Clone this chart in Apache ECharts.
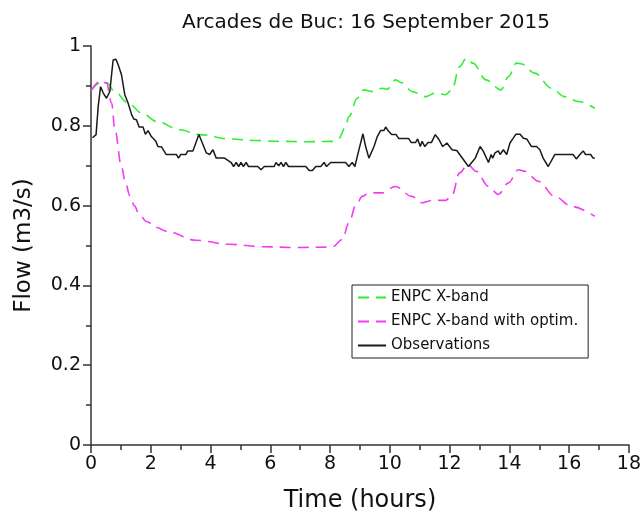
<!DOCTYPE html>
<html>
<head>
<meta charset="utf-8">
<script src="https://cdn.jsdelivr.net/npm/echarts@6/dist/echarts.min.js"></script>
<style>
  html, body { margin: 0; padding: 0; background: #fff; }
  #chart { width: 644px; height: 518px; }
</style>
</head>
<body>
<div id="chart"></div>
<script>
// Hourly flow at Arcades de Buc, 16 September 2015
const titleText = 'Arcades de Buc: 16 September 2015';
const xTicks = [0, 2, 4, 6, 8, 10, 12, 14, 16, 18];
const yTicks = [0, 0.2, 0.4, 0.6, 0.8, 1];

// ENPC X-band simulation
const xbandHours = [0, 0.3, 0.53, 0.8, 1.24, 1.7, 2.19, 2.97, 3.63, 4.63, 5.5, 6.3, 7.2, 8.08,
  8.3, 8.5, 8.63, 8.91, 9.13, 9.41, 9.74, 9.91, 10.19, 10.41, 10.74, 11.19, 11.52, 11.86,
  12.08, 12.33, 12.56, 12.78, 13.22, 13.72, 13.97, 14.24, 14.41, 14.85, 15.41, 15.85, 16.3, 16.86];
const xbandFlow = [0.888, 0.908, 0.908, 0.885, 0.857, 0.832, 0.811, 0.790, 0.778, 0.767, 0.763, 0.761, 0.760, 0.761,
  0.769, 0.795, 0.823, 0.869, 0.890, 0.886, 0.894, 0.892, 0.915, 0.908, 0.886, 0.873, 0.882, 0.878,
  0.890, 0.948, 0.969, 0.957, 0.915, 0.890, 0.923, 0.957, 0.955, 0.932, 0.894, 0.873, 0.861, 0.844];

// ENPC X-band simulation with optimised parameters
const optimHours = [0, 0.32, 0.52, 0.69, 0.8, 1.02, 1.15, 1.3, 1.45, 1.6, 1.86, 2.2, 2.52, 3.52, 4.63, 5.74,
  6.86, 8.08, 8.41, 8.63, 8.86, 9.08, 9.3, 9.74, 10.19, 10.74, 11.08, 11.41, 11.86, 12.08, 12.33,
  12.61, 12.89, 13.3, 13.63, 13.97, 14.3, 14.52, 14.97, 15.52, 16.08, 16.86];
const optimFlow = [0.888, 0.913, 0.907, 0.857, 0.790, 0.698, 0.658, 0.625, 0.600, 0.580, 0.560, 0.545, 0.536, 0.513, 0.503, 0.497,
  0.495, 0.496, 0.515, 0.557, 0.600, 0.623, 0.632, 0.632, 0.648, 0.623, 0.607, 0.613, 0.613, 0.625, 0.682,
  0.703, 0.686, 0.648, 0.628, 0.657, 0.690, 0.686, 0.661, 0.623, 0.598, 0.573];

// Gauged observations
const obsHours = [0.05, 0.17, 0.24, 0.32, 0.41, 0.52, 0.63, 0.74, 0.83, 0.91, 1.02, 1.13, 1.24, 1.30, 1.36,
  1.43, 1.52, 1.61, 1.74, 1.82, 1.91, 2.02, 2.17, 2.24, 2.36, 2.52, 2.86, 2.93, 3.00, 3.17, 3.24,
  3.41, 3.61, 3.67, 3.86, 3.97, 4.08, 4.19, 4.47, 4.69, 4.77, 4.86, 4.94, 5.02, 5.10, 5.19, 5.27,
  5.58, 5.69, 5.80, 6.13, 6.19, 6.28, 6.36, 6.44, 6.52, 6.61, 7.19, 7.30, 7.41, 7.52, 7.69, 7.80,
  7.88, 8.02, 8.52, 8.63, 8.74, 8.83, 8.94, 9.10, 9.19, 9.30, 9.36, 9.47, 9.58, 9.69, 9.80, 9.86,
  9.94, 10.06, 10.21, 10.30, 10.63, 10.72, 10.86, 10.93, 11.02, 11.08, 11.17, 11.28, 11.39, 11.52,
  11.63, 11.77, 11.91, 12.08, 12.24, 12.63, 12.74, 12.86, 13.02, 13.13, 13.30, 13.39, 13.44, 13.52,
  13.63, 13.69, 13.80, 13.91, 14.02, 14.13, 14.22, 14.36, 14.47, 14.58, 14.74, 14.91, 15.02, 15.13,
  15.30, 15.52, 16.13, 16.24, 16.36, 16.47, 16.55, 16.72, 16.80, 16.86];
const obsFlow = [0.770, 0.778, 0.848, 0.898, 0.882, 0.869, 0.886, 0.965, 0.967, 0.953, 0.928, 0.878, 0.857, 0.853, 0.828,
  0.817, 0.815, 0.797, 0.797, 0.779, 0.788, 0.773, 0.761, 0.748, 0.747, 0.728, 0.728, 0.719, 0.728, 0.728, 0.737,
  0.737, 0.778, 0.778, 0.732, 0.728, 0.740, 0.719, 0.719, 0.708, 0.698, 0.708, 0.698, 0.708, 0.698, 0.708, 0.698,
  0.698, 0.690, 0.698, 0.698, 0.708, 0.700, 0.708, 0.698, 0.708, 0.698, 0.698, 0.688, 0.688, 0.698, 0.698, 0.708,
  0.698, 0.708, 0.708, 0.698, 0.708, 0.698, 0.732, 0.780, 0.748, 0.719, 0.719, 0.748, 0.773, 0.788, 0.788, 0.797,
  0.788, 0.778, 0.778, 0.768, 0.768, 0.758, 0.758, 0.767, 0.748, 0.761, 0.748, 0.758, 0.758, 0.778,
  0.767, 0.748, 0.757, 0.740, 0.738, 0.698, 0.708, 0.719, 0.748, 0.736, 0.708, 0.728, 0.719, 0.732,
  0.737, 0.728, 0.740, 0.728, 0.757, 0.769, 0.779, 0.779, 0.769, 0.767, 0.748, 0.748, 0.740, 0.719,
  0.698, 0.728, 0.728, 0.717, 0.728, 0.737, 0.728, 0.728, 0.719, 0.719];

const seriesNames = ['ENPC X-band', 'ENPC X-band with optim.', 'Observations'];

const pairs = (xs, ys) => xs.map((x, i) => [x, ys[i]]);
const FONT = 'DejaVu Sans';
const DASH = [11, 7];

const chart = echarts.init(document.getElementById('chart'), null, { renderer: 'canvas' });
chart.setOption({
  animation: false,
  backgroundColor: '#ffffff',
  title: {
    text: titleText,
    left: 361, top: 8, textAlign: 'center',
    textStyle: { fontFamily: FONT, fontSize: 20, fontWeight: 'normal', color: '#111' }
  },
  grid: { left: 91, right: 12, top: 46, bottom: 72, containLabel: false },
  legend: {
    orient: 'vertical',
    left: 352, top: 285,
    padding: [5, 10, 5, 5],
    itemWidth: 28, itemHeight: 14, itemGap: 9,
    borderColor: '#222', borderWidth: 1,
    backgroundColor: '#fff',
    itemStyle: { opacity: 0 },
    textStyle: { fontFamily: FONT, fontSize: 15, color: '#111' },
    data: seriesNames
  },
  xAxis: {
    type: 'value', min: 0, max: 18, interval: 2,
    name: 'Time (hours)', nameLocation: 'middle', nameGap: 44,
    nameTextStyle: { fontFamily: FONT, fontSize: 24, color: '#111' },
    axisLine: { onZero: false, lineStyle: { color: '#333', width: 1.5 } },
    axisTick: { show: true, length: 8, lineStyle: { color: '#333', width: 1.5 } },
    minorTick: { show: true, splitNumber: 2, length: 5, lineStyle: { color: '#333', width: 1.5 } },
    axisLabel: { fontFamily: FONT, fontSize: 19, color: '#111', margin: 10,
      customValues: xTicks },
    splitLine: { show: false }
  },
  yAxis: {
    type: 'value', min: 0, max: 1, interval: 0.2,
    name: 'Flow (m3/s)', nameLocation: 'middle', nameGap: 55,
    nameTextStyle: { fontFamily: FONT, fontSize: 23, color: '#111' },
    axisLine: { show: true, lineStyle: { color: '#333', width: 1.5 } },
    axisTick: { show: true, length: 8, lineStyle: { color: '#333', width: 1.5 } },
    minorTick: { show: true, splitNumber: 2, length: 5, lineStyle: { color: '#333', width: 1.5 } },
    axisLabel: { fontFamily: FONT, fontSize: 19, color: '#111', margin: 10,
      formatter: v => String(yTicks.find(t => Math.abs(t - v) < 1e-9) ?? v) },
    splitLine: { show: false }
  },
  series: [
    {
      name: seriesNames[0], type: 'line', data: pairs(xbandHours, xbandFlow),
      showSymbol: false, symbol: 'none', smooth: 0.35, smoothMonotone: 'x',
      lineStyle: { color: '#2ef02e', width: 1.6, type: DASH },
      itemStyle: { color: '#2ef02e' }, z: 2
    },
    {
      name: seriesNames[1], type: 'line', data: pairs(optimHours, optimFlow),
      showSymbol: false, symbol: 'none', smooth: 0.35, smoothMonotone: 'x',
      lineStyle: { color: '#f23cf2', width: 1.6, type: DASH },
      itemStyle: { color: '#f23cf2' }, z: 3
    },
    {
      name: seriesNames[2], type: 'line', data: pairs(obsHours, obsFlow),
      showSymbol: false, symbol: 'none',
      lineStyle: { color: '#1a1a1a', width: 1.5 },
      itemStyle: { color: '#1a1a1a' }, z: 4
    }
  ]
});
</script>
</body>
</html>
